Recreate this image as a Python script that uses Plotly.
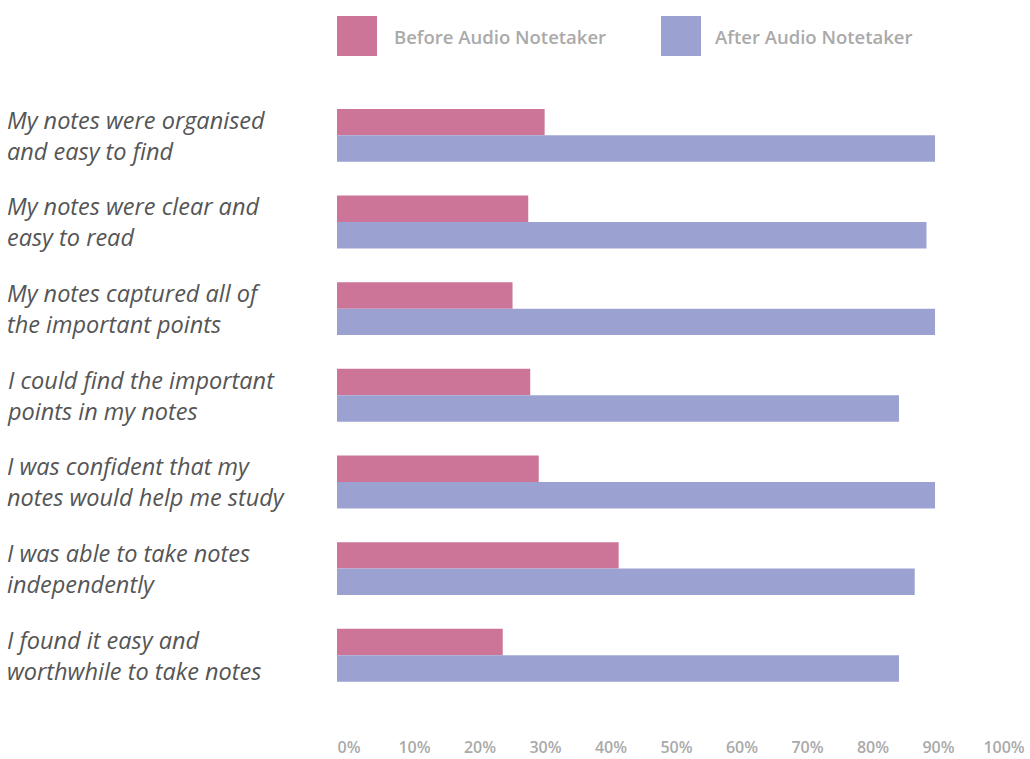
import plotly.graph_objects as go

categories = [
    "My notes were organised<br>and easy to find",
    "My notes were clear and<br>easy to read",
    "My notes captured all of<br>the important points",
    "I could find the important<br>points in my notes",
    "I was confident that my<br>notes would help me study",
    "I was able to take notes<br>independently",
    "I found it easy and<br>worthwhile to take notes",
]
before = [31.7, 29.2, 26.8, 29.5, 30.8, 43, 25.3]
after = [91.3, 90, 91.3, 85.8, 91.3, 88.2, 85.8]
tick_vals = [0, 10, 20, 30, 40, 50, 60, 70, 80, 90, 100]
tick_text = ["0%", "10%", "20%", "30%", "40%", "50%", "60%", "70%", "80%", "90%", "100%"]
series_names = ["Before Audio Notetaker", "After Audio Notetaker"]

PINK = "#CD7499"
BLUE = "#9BA2D2"
W, H = 1030, 759
ML, MR, MT, MB = 337, 38, 92, 24
PW = W - ML - MR
PH = H - MT - MB

def px_x(p):
    return (p - ML) / PW

def px_y(p):
    return (H - MB - p) / PH

ypos = list(range(len(categories)))

fig = go.Figure()
fig.add_trace(go.Bar(y=ypos, x=before, orientation="h", name=series_names[0],
                     marker=dict(color=PINK, line=dict(width=0)), showlegend=False))
fig.add_trace(go.Bar(y=ypos, x=after, orientation="h", name=series_names[1],
                     marker=dict(color=BLUE, line=dict(width=0)), showlegend=False))

annotations = []
for i, c in enumerate(categories):
    annotations.append(dict(
        text=c, xref="paper", x=px_x(5), xanchor="left", align="left",
        yref="y", y=i, yanchor="middle", showarrow=False,
        font=dict(family="Open Sans", size=23.5, color="#555555", style="italic"),
    ))

# legend
shapes = []
leg = [(337, 392, PINK, series_names[0]), (661, 713, BLUE, series_names[1])]
for sx, tx, col, name in leg:
    shapes.append(dict(type="rect", xref="paper", yref="paper",
                       x0=px_x(sx), x1=px_x(sx + 40), y0=px_y(56), y1=px_y(16),
                       fillcolor=col, line=dict(width=0)))
    annotations.append(dict(text=name, xref="paper", yref="paper",
                            x=px_x(tx), y=px_y(37), xanchor="left", yanchor="middle",
                            showarrow=False,
                            font=dict(family="Open Sans", size=18.5, color="#AAAAAA", weight=600)))

fig.update_layout(
    width=W, height=H,
    margin=dict(l=ML, r=MR, t=MT, b=MB, pad=0, autoexpand=False),
    paper_bgcolor="white", plot_bgcolor="white",
    barmode="group", bargap=0.39, bargroupgap=0,
    annotations=annotations, shapes=shapes,
    font=dict(family="Open Sans"),
    xaxis=dict(range=[0, 100], tickvals=tick_vals, ticktext=tick_text,
               showgrid=False, zeroline=False, showline=False, ticks="",
               ticklabelshift=12, ticklabelstandoff=1, automargin=False,
               tickfont=dict(family="Open Sans", size=16, color="#AAAAAA", weight=600),
               fixedrange=True),
    yaxis=dict(range=[6.92, -0.5], showticklabels=False, showgrid=False, automargin=False,
               zeroline=False, showline=False, ticks="", fixedrange=True),
)

fig.write_html("out.html", config={"displayModeBar": False},
               post_script="document.body.style.margin='0';document.body.style.overflow='hidden';")
